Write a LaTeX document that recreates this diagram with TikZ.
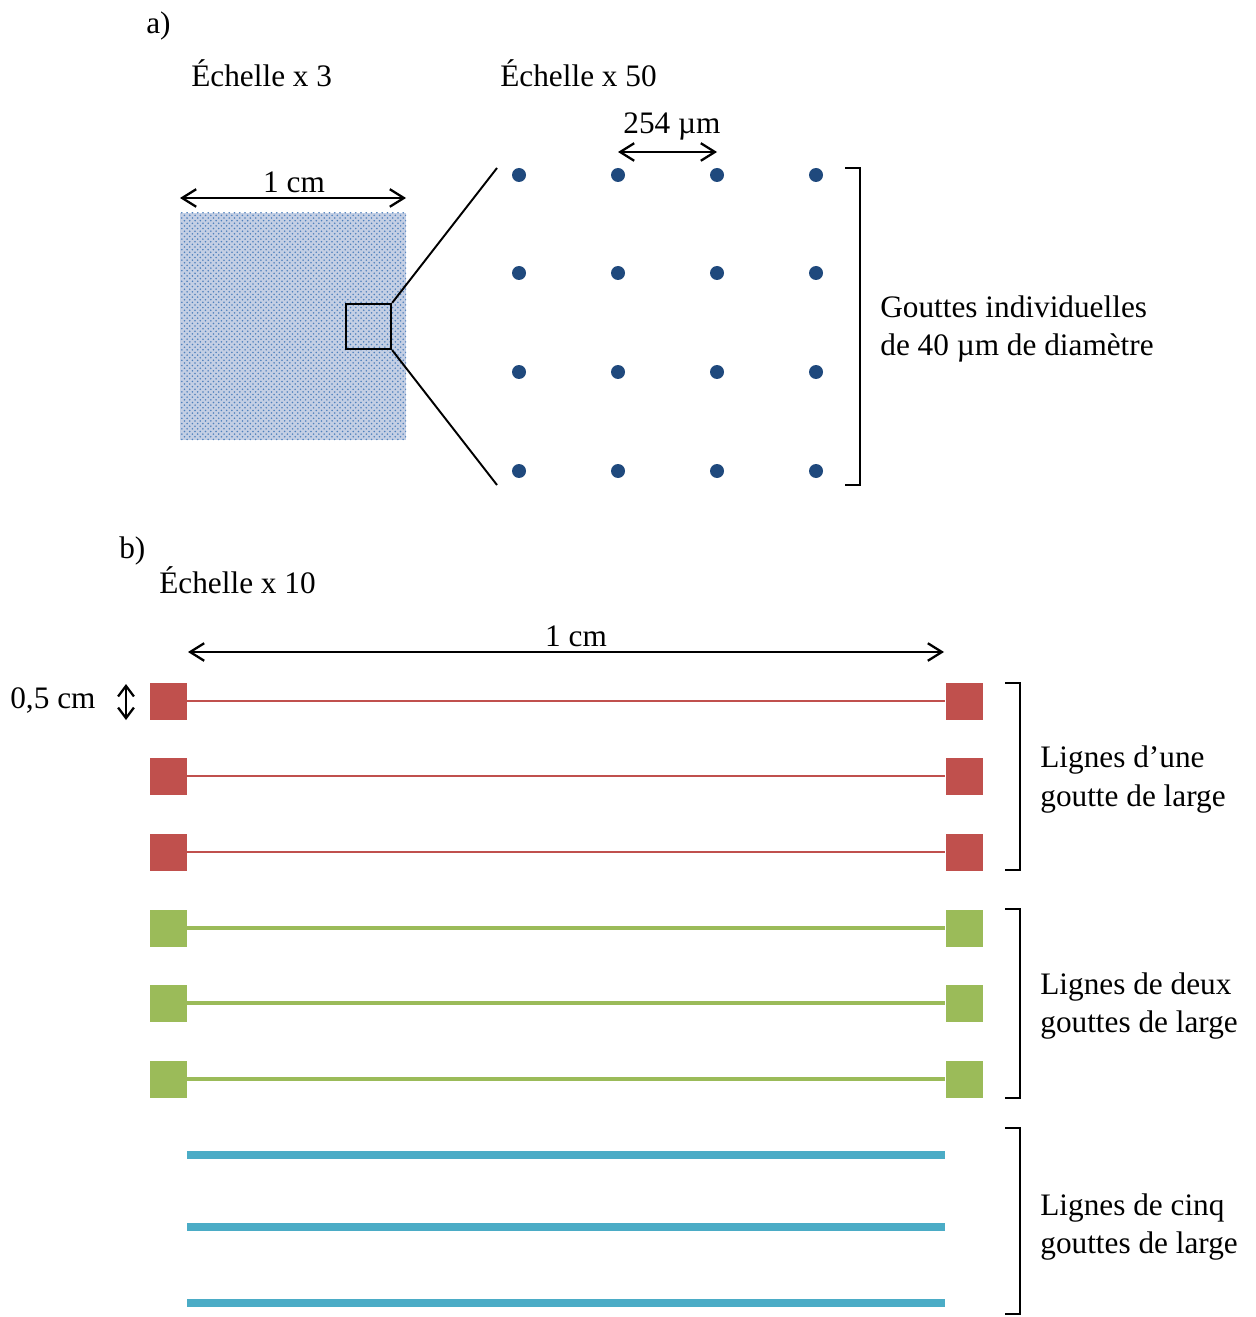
\documentclass[tikz,border=0pt]{standalone}
\usepackage{fontspec}
\setmainfont{Liberation Serif}
\usetikzlibrary{arrows.meta,patterns}
\definecolor{dotblue}{HTML}{1F497D}
\definecolor{patblue}{HTML}{4F81BD}
\definecolor{sqfill}{RGB}{196,207,228}
\definecolor{redc}{HTML}{C0504D}
\definecolor{greenc}{HTML}{9BBB59}
\definecolor{bluec}{HTML}{4BACC6}
\begin{document}
\begin{tikzpicture}[x=0.02cm,y=-0.02cm,
  txt/.style={font=\fontsize{17.8}{21}\selectfont, inner sep=0pt, anchor=base west},
  txtc/.style={font=\fontsize{17.8}{21}\selectfont, inner sep=0pt, anchor=base},
  dim/.style={line width=1.3pt, {Straight Barb[length=8pt,width=10pt]}-{Straight Barb[length=8pt,width=10pt]}},
  brk/.style={line width=1.4pt},
  dot/.style={circle, fill=dotblue, inner sep=0pt, minimum size=0.28cm},
  redsq/.style={rectangle, fill=redc, inner sep=0pt, minimum size=0.74cm},
  greensq/.style={rectangle, fill=greenc, inner sep=0pt, minimum size=0.74cm},
  redline/.style={draw=redc, line width=1.1pt},
  greenline/.style={draw=greenc, line width=2.3pt},
  blueline/.style={draw=bluec, line width=4.4pt}]
\useasboundingbox (0,0) rectangle (1256,1317);

% ---------- a) ----------
\node[txt] (la) at (146,34) {a)};
\node[txt] (e3) at (191,87) {Échelle x 3};
\node[txt] (e50) at (500,87) {Échelle x 50};

\fill[sqfill] (180,213) rectangle (406,440);
\fill[pattern=crosshatch dots, pattern color=patblue] (180,213) rectangle (406,440);
\coordinate (w1) at (180,198);
\coordinate (w2) at (406,198);
\draw[dim] (w1) -- (w2);
\node[txtc] (cm1) at (294,193) {1 cm};

\node[draw=black, line width=1.3pt, inner sep=0pt, minimum size=0.9cm] (zoomsq) at (368.5,326.5) {};
\coordinate (zt) at (497,168);
\coordinate (zb) at (497,485);
\draw[line width=1.1pt] (zoomsq.north east) -- (zt);
\draw[line width=1.1pt] (zoomsq.south east) -- (zb);

\foreach \i/\x in {1/519,2/618,3/717,4/816}{
  \foreach \j/\y in {1/175,2/273,3/372,4/471}{
    \node[dot] (d\i\j) at (\x,\y) {};
  }
}
\draw[dim] (d21.center |- 0,152) -- (d31.center |- 0,152);
\node[txtc] (pitch) at (672,134) {254 µm};

\coordinate (ba1) at (845,168);
\coordinate (ba2) at (860,168);
\coordinate (ba3) at (860,485);
\coordinate (ba4) at (845,485);
\draw[brk] (ba1) -- (ba2) -- (ba3) -- (ba4);
\node[txt] (g1) at (880,318) {Gouttes individuelles};
\node[txt] (g2) at (880,356) {de 40 µm de diamètre};

% ---------- b) ----------
\node[txt] (lb) at (119,558) {b)};
\node[txt] (e10) at (159,593) {Échelle x 10};
\coordinate (v1) at (188,652);
\coordinate (v2) at (944,652);
\draw[dim] (v1) -- (v2);
\node[txtc] (cm2) at (576,646) {1 cm};

\node[txt] (hc) at (10,708) {0,5 cm};
\coordinate (h1) at (126,684);
\coordinate (h2) at (126,720);
\draw[line width=1.3pt, {Straight Barb[length=6pt,width=9pt]}-{Straight Barb[length=6pt,width=9pt]}] (h1) -- (h2);

\foreach \k/\y in {1/701,2/776,3/852}{
  \node[redsq] (rl\k) at (168.5,\y) {};
  \node[redsq] (rr\k) at (964,\y) {};
  \draw[redline] (rl\k.east) -- (rr\k.west);
}
\foreach \k/\y in {1/928,2/1003,3/1079}{
  \node[greensq] (gl\k) at (168.5,\y) {};
  \node[greensq] (gr\k) at (964,\y) {};
  \draw[greenline] (gl\k.east) -- (gr\k.west);
}
\foreach \k/\y in {1/1155,2/1227,3/1303}{
  \coordinate (bl\k) at (187,\y);
  \coordinate (br\k) at (945,\y);
  \draw[blueline] (bl\k) -- (br\k);
}

\foreach \n/\t/\b in {r/683/870,g/909/1098,b/1128/1314}{
  \coordinate (\n b1) at (1005,\t);
  \coordinate (\n b2) at (1020,\t);
  \coordinate (\n b3) at (1020,\b);
  \coordinate (\n b4) at (1005,\b);
  \draw[brk] (\n b1) -- (\n b2) -- (\n b3) -- (\n b4);
}

\node[txt] (t1) at (1040,767) {Lignes d’une};
\node[txt] (t2) at (1040,806) {goutte de large};
\node[txt] (t3) at (1040,994) {Lignes de deux};
\node[txt] (t4) at (1040,1032) {gouttes de large};
\node[txt] (t5) at (1040,1215) {Lignes de cinq};
\node[txt] (t6) at (1040,1253) {gouttes de large};
\end{tikzpicture}
\end{document}
